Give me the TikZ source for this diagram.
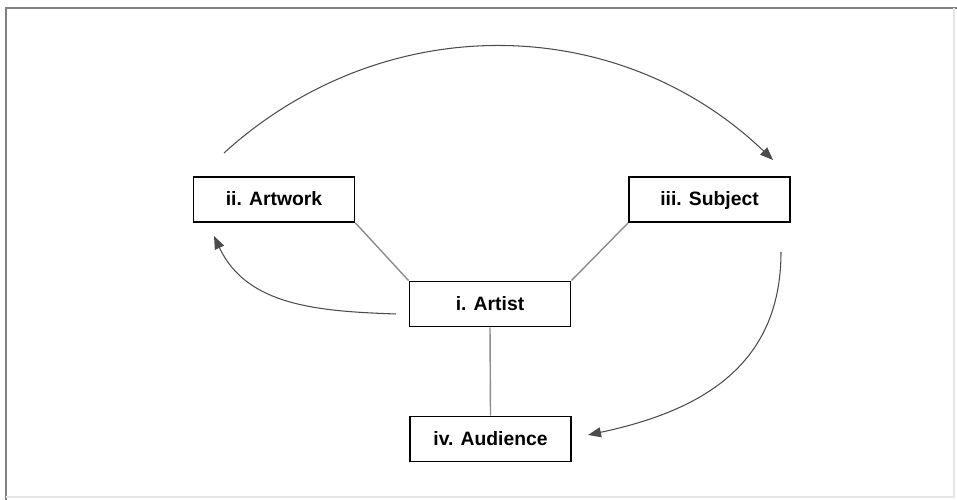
\documentclass[tikz,border=0pt]{standalone}
\usepackage{fontspec}
\setmainfont{Liberation Sans}
\usetikzlibrary{arrows.meta}
\begin{document}
\begin{tikzpicture}[
  box/.style={draw, line width=1.1pt, minimum width=3.22cm, minimum height=0.9cm,
    inner sep=0pt, text height=1.6ex, text depth=0.2ex,
    font=\fontsize{11}{13}\selectfont\bfseries},
  link/.style={draw, black!45, line width=0.8pt},
  flow/.style={draw, black!70, line width=0.6pt, -{Triangle[length=2.6mm,width=2mm]}}
]
\useasboundingbox (0,0) rectangle (19.14,10);
\path[draw, black!50, line width=1.6pt] (0.12,0) -- (0.12,9.84) -- (19.14,9.84);
\path[draw, black!10, line width=0.6pt] (19.08,9.84) -- (19.08,0.06) -- (0.12,0.06);

\node[box] (artwork) at (5.48,6.01) {ii. Artwork};
\node[box] (subject) at (14.19,6.01) {iii. Subject};
\node[box] (artist) at (9.80,3.92) {i. Artist};
\node[box] (audience) at (9.81,1.22) {iv. Audience};

\coordinate (a1) at (4.48,6.94);
\coordinate (s1) at (15.46,6.80);
\coordinate (s2) at (15.62,4.96);
\coordinate (u1) at (11.76,1.30);
\coordinate (r1) at (7.92,3.72);
\coordinate (w1) at (4.28,5.28);

\path[link] (artwork.south east) -- (artist.north west);
\path[link] (subject.south west) -- (artist.north east);
\path[link] (artist.south) -- (audience.north);

\path[flow] (a1) to[bend left=43] (s1);
\path[flow] (s2) to[out=-90, in=12, looseness=1.1] (u1);
\path[flow] (r1) to[out=178, in=-65, looseness=1.0] (w1);
\end{tikzpicture}
\end{document}
